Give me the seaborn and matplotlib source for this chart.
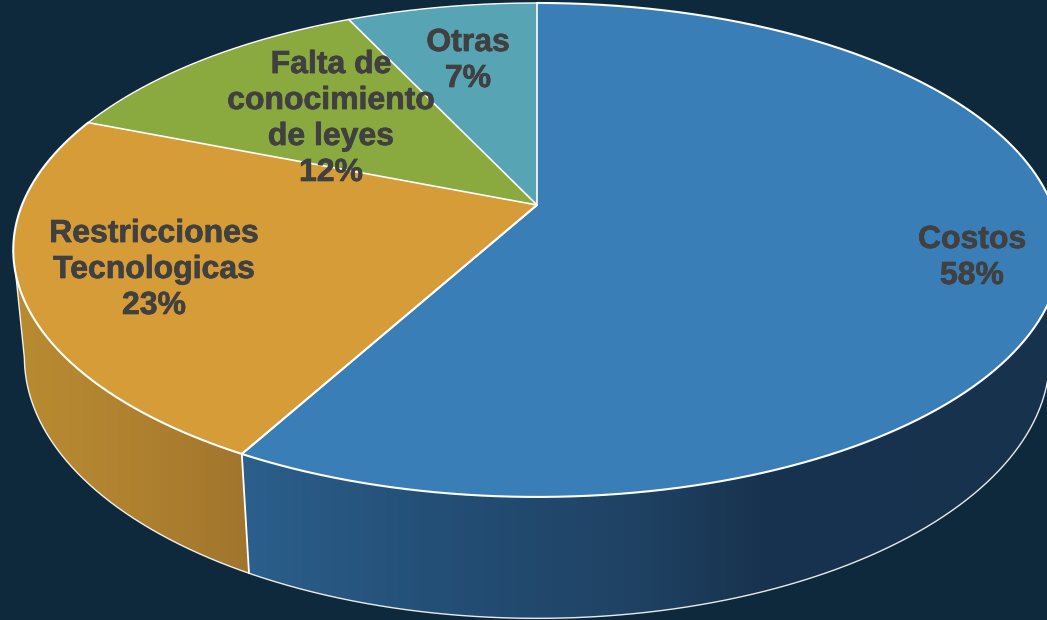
import numpy as np
import matplotlib
matplotlib.use("Agg")
import matplotlib.pyplot as plt
import matplotlib.patheffects as pe
from matplotlib.colors import LinearSegmentedColormap, to_rgb
from matplotlib.patches import Polygon
import seaborn as sns

categories = ["Costos", "Restricciones\nTecnologicas", "Falta de\nconocimiento\nde leyes", "Otras"]
values = [58, 23, 12, 7]
top_colors = ["#3a7eb8", "#d59c38", "#8aa93f", "#57a4b4"]
label_xy = [(972, 258), (154, 270), (331, 119), (468, 61)]
side_stops = {
    0: [(230, "#2c608d"), (420, "#245078"), (640, "#1f4263"), (760, "#18334f"), (1060, "#17324d")],
    1: [(10, "#b98c31"), (130, "#b08230"), (260, "#9f742c")],
}
BG = "#0e293c"

sns.set_theme(style="white")
plt.rcParams["font.family"] = ["Liberation Sans", "DejaVu Sans"]

# perspective model of the disc, in pixel axes
CX, CY, A, B, K = 537.0, 205.0, 515.0, 238.8, 0.182
W_LOW, H_LOW = 1.021, 108.0


def top_pt(t):
    w = 1 + K * np.cos(t)
    return CX + A * np.sin(t) / w, CY - B * np.cos(t) / w


def low_pt(t):
    w = W_LOW + K * np.cos(t)
    return CX + A * np.sin(t) / w, CY - (B * np.cos(t) - H_LOW) / w


fig = plt.figure(figsize=(10.47, 6.2), dpi=100, facecolor=BG)
ax = fig.add_axes([0, 0, 1, 1])
ax.set_facecolor(BG)
ax.axis("off")

edges = np.concatenate([[0], np.cumsum(values)]) / sum(values) * 2 * np.pi
tan_left = 2 * np.pi - np.arccos(-K)
tan_right = np.arccos(-K)

# visible side walls with horizontal gradients
spans = {0: (tan_right, edges[1]), 1: (edges[1], tan_left)}
for idx, (t0, t1) in spans.items():
    ts = np.linspace(t0, t1, 300)
    xt, yt = top_pt(ts)
    xl, yl = low_pt(ts)
    poly = Polygon(np.column_stack([np.r_[xt, xl[::-1]], np.r_[yt, yl[::-1]]]),
                   closed=True, transform=ax.transData, fc="none", ec="none")
    ax.add_patch(poly)
    stops = side_stops[idx]
    x0, x1 = stops[0][0], stops[-1][0]
    cmap = LinearSegmentedColormap.from_list(
        f"side{idx}", [((x - x0) / (x1 - x0), to_rgb(c)) for x, c in stops])
    im = ax.imshow(np.linspace(0, 1, 512)[None, :], cmap=cmap, aspect="auto",
                   extent=(x0, x1, 620, 0), zorder=1)
    im.set_clip_path(poly)

# outer outline of the walls
ts = np.linspace(tan_right, tan_left, 600)
xl, yl = low_pt(ts)
xt0, yt0 = top_pt(tan_left)
ax.plot(np.r_[xl, xt0], np.r_[yl, yt0], color="white", lw=1.0, alpha=0.9, zorder=2,
        solid_capstyle="round")
xt1, yt1 = top_pt(edges[1])
xl1, yl1 = low_pt(edges[1])
ax.plot([xt1, xl1], [yt1, yl1], color="white", lw=1.3, zorder=2)

# top face slices
for i, col in enumerate(top_colors):
    ts = np.linspace(edges[i], edges[i + 1], 300)
    x, y = top_pt(ts)
    ax.fill(np.r_[CX, x], np.r_[CY, y], facecolor=col, edgecolor="none", zorder=3)
for i in range(len(values)):
    ts = np.linspace(edges[i], edges[i + 1], 300)
    x, y = top_pt(ts)
    lw = 1.5 if i < 2 else 1.0
    ax.plot(x, y, color="white", lw=lw, zorder=4)
    ax.plot([CX, x[0]], [CY, y[0]], color="white", lw=1.2, zorder=4)
ax.plot([CX, top_pt(edges[1])[0]], [CY, top_pt(edges[1])[1]], color="white", lw=1.5, zorder=4)

for name, val, (lx, ly) in zip(categories, values, label_xy):
    ax.text(lx, ly, f"{name}\n{val}%", ha="center", va="center", fontsize=23,
            fontweight="bold", color="#404040", linespacing=1.26, zorder=5,
            path_effects=[pe.withStroke(linewidth=0.5, foreground="#404040")])

ax.set_xlim(0, 1047)
ax.set_ylim(620, 0)
fig.savefig("out.png", dpi=100, facecolor=BG)
